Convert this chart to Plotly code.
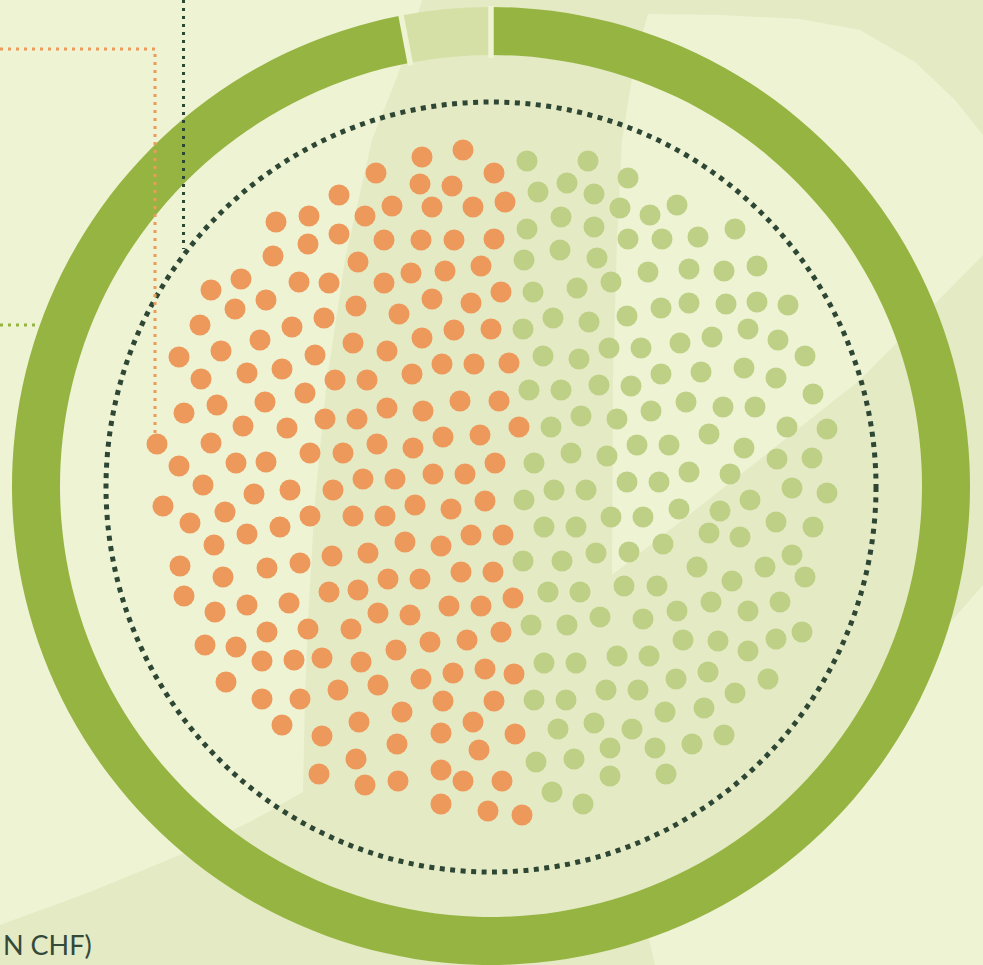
import math
import plotly.graph_objects as go

W, H = 983, 965

# ---------------- data ----------------
orange_x = [422,463,376,494,339,420,452,365,392,432,
            473,505,276,309,339,384,421,454,494,308,
            273,358,411,445,481,241,211,299,329,384,
            266,235,356,432,471,501,200,292,324,399,
            260,221,179,315,353,387,422,454,491,442,
            474,509,412,201,247,282,335,367,184,217,
            265,305,243,287,325,357,387,423,460,499,
            157,211,236,266,310,343,377,413,443,480,
            519,179,203,254,290,333,363,395,433,465,
            495,163,190,225,247,280,310,353,385,415,
            451,485,214,405,441,471,503,180,223,267,
            300,332,368,388,420,461,493,184,215,247,
            289,329,358,378,410,449,481,513,267,308,
            351,205,236,262,294,322,361,396,430,467,
            501,226,338,378,421,453,485,514,262,300,
            443,494,402,282,322,359,473,515,441,397,
            479,356,319,365,441,463,502,398,441,488,
            522]
orange_y = [157,150,173,173,195,184,186,216,206,207,
            207,202,222,216,234,240,240,240,239,244,
            256,262,273,271,266,279,290,282,283,283,
            300,309,306,299,303,292,325,327,318,314,
            340,351,357,355,343,351,338,330,329,364,
            364,363,374,379,373,369,380,380,413,405,
            402,393,426,428,419,419,408,411,401,401,
            444,443,463,462,453,453,444,448,437,435,
            427,466,485,494,490,490,479,479,474,474,
            463,506,523,512,534,527,516,516,516,505,
            509,501,545,542,546,535,535,566,577,568,
            563,556,553,579,579,572,572,596,612,605,
            603,592,590,613,615,606,606,598,632,629,
            629,645,647,661,660,658,662,650,642,640,
            632,682,690,685,679,673,669,674,699,699,
            701,701,712,725,736,722,722,734,733,744,
            750,759,774,785,770,781,781,781,804,811,
            815]

green_x = [527,588,538,567,594,620,628,650,677,561,
           527,594,628,662,698,735,560,524,597,648,
           689,724,757,577,533,611,553,523,589,627,
           661,689,726,757,788,543,579,609,641,680,
           712,748,778,805,529,561,599,631,661,701,
           744,776,813,551,581,617,651,686,723,755,
           787,827,534,571,607,637,669,709,744,777,
           812,554,586,524,627,659,689,730,792,827,
           544,576,611,643,679,720,750,776,813,523,
           562,596,629,663,709,740,792,697,765,805,
           548,580,624,657,732,531,567,600,643,677,
           711,748,780,683,718,748,776,802,544,576,
           617,649,676,708,768,534,566,606,638,665,
           704,735,558,594,632,536,574,610,655,692,
           724,610,666,552,583]
green_y = [161,161,192,183,194,208,178,215,205,217,
           229,227,239,239,237,229,250,260,258,272,
           269,271,266,288,292,282,318,329,322,316,
           308,303,304,302,305,356,359,348,348,343,
           337,329,340,356,390,390,385,386,374,372,
           368,378,394,427,416,419,411,402,407,407,
           427,429,463,453,456,445,445,434,448,459,
           458,490,490,500,482,482,472,474,488,493,
           527,527,517,517,509,511,500,522,527,561,
           561,553,552,544,533,537,555,567,567,577,
           592,592,586,586,581,625,625,617,619,611,
           602,611,602,640,641,651,639,632,663,663,
           656,656,679,672,679,700,700,690,690,712,
           708,693,729,723,729,762,759,748,748,744,
           735,776,774,792,804]

ring_labels = ["Share A", "Share B"]
ring_values = [97, 3]

unit_text = "N CHF)"

# ---------------- styles ----------------
BG_LIGHT = "#edf3d3"
BG_DARK = "#e4eac4"
RING_GREEN = "#96b441"
RING_LIGHT = "#d5e0a6"
ORANGE = "#ed995b"
GREEN_DOT = "#bed086"
DARK = "#2e4634"

CX, CY = 491, 487
R_OUT, R_IN = 479, 431
R_DOTTED = 385

fig = go.Figure()

fig.add_trace(go.Scatter(
    x=orange_x, y=orange_y, mode="markers",
    marker=dict(size=21, color=ORANGE, line=dict(width=0)),
    hoverinfo="skip", showlegend=False))
fig.add_trace(go.Scatter(
    x=green_x, y=green_y, mode="markers",
    marker=dict(size=21, color=GREEN_DOT, line=dict(width=0)),
    hoverinfo="skip", showlegend=False))

# ring (donut)
x0 = (CX - R_OUT) / W
x1 = (CX + R_OUT) / W
y0 = 0.0
y1 = min(1.0, 2 * R_OUT / H)
fig.add_trace(go.Pie(
    labels=ring_labels, values=ring_values, sort=False,
    direction="clockwise", rotation=0, hole=R_IN / R_OUT,
    marker=dict(colors=[RING_GREEN, RING_LIGHT], line=dict(width=0)),
    textinfo="none", hoverinfo="skip", showlegend=False,
    domain=dict(x=[x0, x1], y=[y0, y1])))

shapes = []
# background decorative regions
dark_pts = [(422,0),(983,0),(983,965),(0,965),(0,925),(90,892),(180,855),
            (250,822),(303,792),(305,700),(308,620),(315,500),(327,380),
            (345,260),(372,140),(397,77),(412,35)]
light_band = [(648,14),(720,15),(800,19),(860,30),(915,62),(955,100),(983,135),
              (983,255),(860,380),(740,475),(612,575),(613,380),(617,240),
              (622,140),(635,60)]
light_br = [(983,585),(900,680),(800,800),(700,880),(640,900),(655,965),(983,965)]

def path(pts):
    return "M " + " L ".join(f"{x},{y}" for x, y in pts) + " Z"

for pts, col in [(dark_pts, BG_DARK), (light_band, BG_LIGHT), (light_br, BG_LIGHT)]:
    shapes.append(dict(type="path", path=path(pts), xref="x", yref="y",
                       fillcolor=col, line=dict(width=0), layer="below"))

# dotted circle
shapes.append(dict(type="circle", xref="x", yref="y",
                   x0=CX - R_DOTTED, x1=CX + R_DOTTED, y0=CY - R_DOTTED, y1=CY + R_DOTTED,
                   line=dict(color=DARK, width=5, dash="5px,5.5px"), layer="above"))

# separators between ring slices
total = sum(ring_values)
cum = 0
for v in ring_values:
    ang = math.radians(cum / total * 360.0)
    cum += v
    sx, sy = math.sin(ang), -math.cos(ang)
    shapes.append(dict(type="line", xref="x", yref="y",
                       x0=CX + (R_IN - 2) * sx, y0=CY + (R_IN - 2) * sy,
                       x1=CX + (R_OUT + 2) * sx, y1=CY + (R_OUT + 2) * sy,
                       line=dict(color=BG_LIGHT, width=5.5), layer="above"))

# leader lines
shapes.append(dict(type="path", path="M 0,49 L 155,49 L 155,440", xref="x", yref="y",
                   line=dict(color="#ee9a5a", width=3, dash="3px,5px"), layer="above"))
shapes.append(dict(type="line", x0=183.5, x1=183.5, y0=0, y1=249, xref="x", yref="y",
                   line=dict(color=DARK, width=3, dash="3px,5px"), layer="above"))
shapes.append(dict(type="line", x0=0, x1=38, y0=325, y1=325, xref="x", yref="y",
                   line=dict(color=RING_GREEN, width=3, dash="3px,5px"), layer="below"))

fig.update_layout(
    width=W, height=H,
    margin=dict(l=0, r=0, t=0, b=0),
    paper_bgcolor=BG_LIGHT, plot_bgcolor=BG_LIGHT,
    xaxis=dict(range=[0, W], visible=False, fixedrange=True),
    yaxis=dict(range=[H, 0], visible=False, fixedrange=True),
    shapes=shapes,
    annotations=[dict(text=unit_text, x=1, y=944, xref="x", yref="y",
                      xanchor="left", yanchor="middle", showarrow=False,
                      font=dict(family="Lato", size=27, color="#34493a"))],
)

fig.write_html(
    "out.html",
    config={"displayModeBar": False},
    post_script="document.body.style.margin='0';document.body.style.overflow='hidden';",
)
